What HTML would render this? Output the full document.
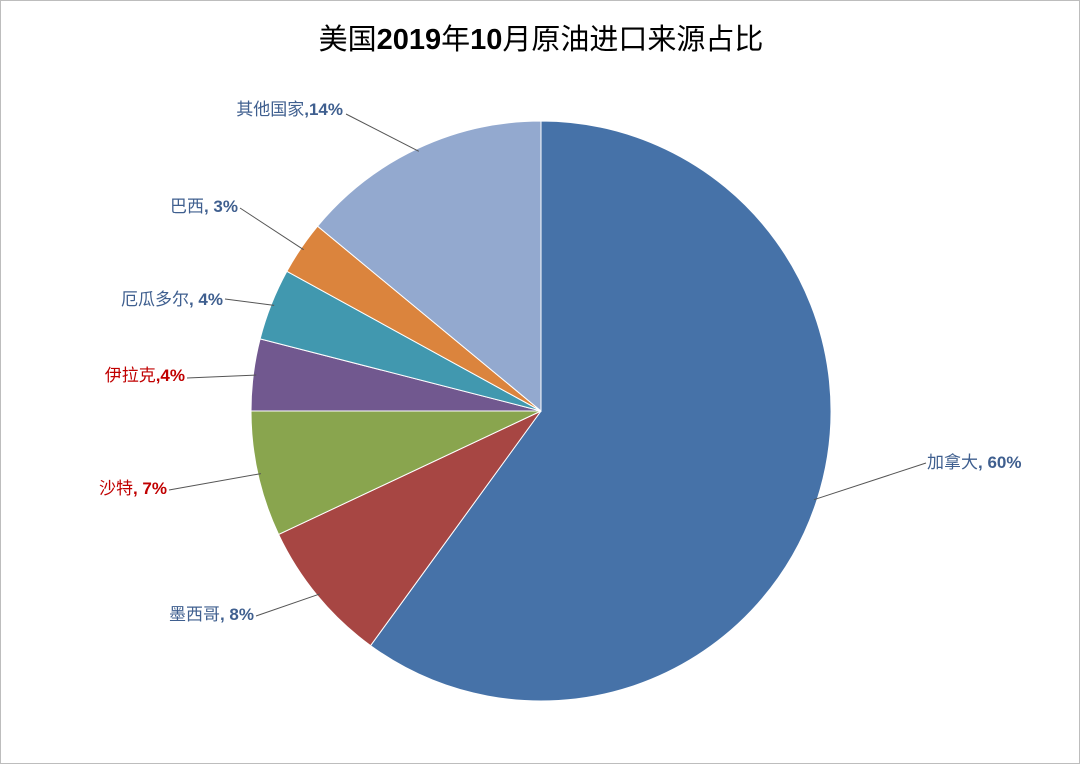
<!DOCTYPE html>
<html><head><meta charset="utf-8"><style>
html,body{margin:0;padding:0;background:#fff}
#wrap{position:relative;width:1078px;height:762px;border:1px solid #bdbdbd;overflow:hidden}
svg text{font-family:"Liberation Sans","Noto Sans CJK SC",sans-serif}
</style></head><body>
<div id="wrap">
<svg id="chart" width="1078" height="762">
<text x="540" y="48" text-anchor="middle" font-size="29" fill="#000">美国<tspan font-weight="bold">2019</tspan>年<tspan font-weight="bold">10</tspan>月原油进口来源占比</text>
</svg></div>
<script>
const categories=["加拿大","墨西哥","沙特","伊拉克","厄瓜多尔","巴西","其他国家"];
const values=[60,8,7,4,4,3,14];
const labelSeps=[", ",", ",", ",",",", ",", ",","];
const colors=["#4672A8","#A74643","#89A54E","#71588F","#4198AF","#DB843D","#93A9CF"];
const labelColors=["#3F5F8F","#3F5F8F","#C00000","#C00000","#3F5F8F","#3F5F8F","#3F5F8F"];
const labelPos=[[926,467,"start",925,462],[253,619,"end",255,615],[166,493,"end",168,489],[184,380,"end",186,377],[222,304,"end",224,298],[237,211,"end",239,207],[342,114,"end",345,113]];
const svg=document.getElementById('chart');
const NS="http://www.w3.org/2000/svg";
const cx=540,cy=410,r=290;
const total=values.reduce((a,b)=>a+b,0);
function pt(frac,rad){const a=frac*2*Math.PI;return [cx+rad*Math.sin(a),cy-rad*Math.cos(a)];}
let acc=0;
values.forEach((v,i)=>{
  const s=acc/total,e=(acc+v)/total;acc+=v;
  const p0=pt(s,r),p1=pt(e,r);
  const large=(e-s)>0.5?1:0;
  const path=document.createElementNS(NS,'path');
  path.setAttribute('d',`M${cx},${cy}L${p0[0]},${p0[1]}A${r},${r} 0 ${large} 1 ${p1[0]},${p1[1]}Z`);
  path.setAttribute('fill',colors[i]);path.setAttribute('stroke','#fff');path.setAttribute('stroke-width','1');
  
  
  svg.appendChild(path);
  const m=pt((s+e)/2,r-3);
  const lp=labelPos[i];
  const line=document.createElementNS(NS,'line');
  line.setAttribute('x1',m[0]);line.setAttribute('y1',m[1]);line.setAttribute('x2',lp[3]);line.setAttribute('y2',lp[4]);
  line.setAttribute('stroke','#555');line.setAttribute('stroke-width','1');
  
  
  svg.appendChild(line);
  const t=document.createElementNS(NS,'text');
  t.setAttribute('x',lp[0]);t.setAttribute('y',lp[1]);t.setAttribute('text-anchor',lp[2]);
  t.setAttribute('font-size','17');t.setAttribute('fill',labelColors[i]);
  const a=document.createElementNS(NS,'tspan');a.textContent=categories[i];
  const b=document.createElementNS(NS,'tspan');b.setAttribute('font-weight','bold');
  b.textContent=labelSeps[i]+v+'%';
  t.appendChild(a);t.appendChild(b);
  
  
  svg.appendChild(t);
});
</script>
</body></html>
